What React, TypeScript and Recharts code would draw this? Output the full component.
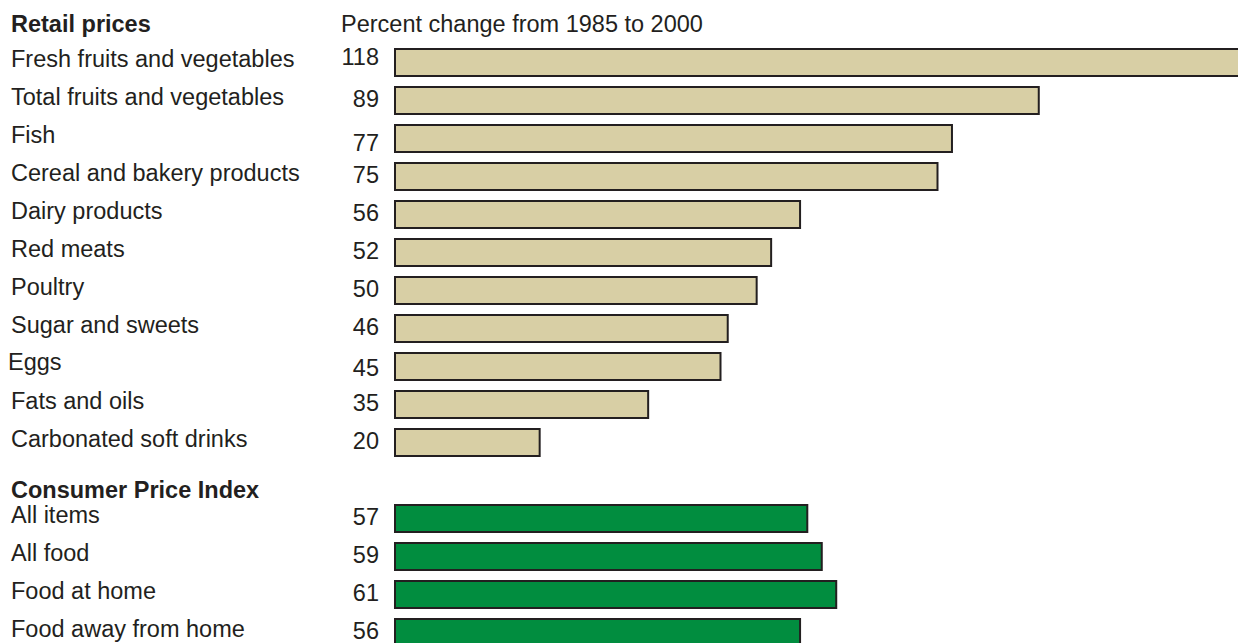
import React from "react";
import { BarChart, Bar, XAxis, YAxis, Cell } from "recharts";

const retailLabels = [
  "Fresh fruits and vegetables",
  "Total fruits and vegetables",
  "Fish",
  "Cereal and bakery products",
  "Dairy products",
  "Red meats",
  "Poultry",
  "Sugar and sweets",
  "Eggs",
  "Fats and oils",
  "Carbonated soft drinks",
];
const retailValues = [118, 89, 77, 75, 56, 52, 50, 46, 45, 35, 20];

const cpiLabels = ["All items", "All food", "Food at home", "Food away from home"];
const cpiValues = [57, 59, 61, 56];

const retailHeader = "Retail prices";
const cpiHeader = "Consumer Price Index";
const title = "Percent change from 1985 to 2000";

const TAN = "#d8cfa5";
const GREEN = "#018d3f";
const INK = "#231f20";
const FONT = "'Liberation Sans', Arial, sans-serif";
const FS = 23.5;

// small typesetting quirks of the original artwork
const numberShift: Record<string, number> = {
  "Fresh fruits and vegetables": -4,
  Fish: 6,
  Eggs: 3,
};
const labelShift: Record<string, [number, number]> = {
  Eggs: [-3, -1],
};

type Row = { name: string; value: number | null; group: "retail" | "cpi" | "header" };

const rows: Row[] = [
  ...retailLabels.map((name, i) => ({ name, value: retailValues[i], group: "retail" as const })),
  { name: cpiHeader, value: null, group: "header" as const },
  ...cpiLabels.map((name, i) => ({ name, value: cpiValues[i], group: "cpi" as const })),
];

function RowTick(props: any) {
  const { y, payload } = props;
  const row = rows.find((r) => r.name === payload.value);
  if (!row) return null;
  if (row.group === "header") {
    return (
      <text x={11} y={y + 18} fill={INK} fontSize={FS} fontWeight="bold" fontFamily={FONT}>
        {row.name}
      </text>
    );
  }
  const [lx, ly] = labelShift[row.name] || [0, 0];
  const ny = numberShift[row.name] || 0;
  return (
    <g>
      <text x={11 + lx} y={y + 5 + ly} fill={INK} fontSize={FS} fontFamily={FONT}>
        {row.name}
      </text>
      <text x={379} y={y + 7 + ny} fill={INK} fontSize={FS} fontFamily={FONT} textAnchor="end">
        {row.value}
      </text>
    </g>
  );
}

export default function App() {
  return (
    <div
      style={{
        position: "absolute",
        left: 0,
        top: 0,
        width: 1238,
        height: 643,
        overflow: "hidden",
        background: "#fff",
      }}
    >
      <svg
        width={1238}
        height={643}
        style={{ position: "absolute", left: 0, top: 0, pointerEvents: "none" }}
      >
        <text x={11} y={32} fill={INK} fontSize={FS} fontWeight="bold" fontFamily={FONT}>
          {retailHeader}
        </text>
        <text x={341} y={32} fill={INK} fontSize={FS} fontFamily={FONT}>
          {title}
        </text>
      </svg>
      <BarChart
        width={1263}
        height={651}
        data={rows}
        layout="vertical"
        margin={{ top: 43, right: 0, bottom: 0, left: 0 }}
        barCategoryGap={0}
      >
        <XAxis type="number" domain={[0, 120]} hide />
        <YAxis
          type="category"
          dataKey="name"
          width={395}
          axisLine={false}
          tickLine={false}
          interval={0}
          tick={<RowTick />}
        />
        <Bar dataKey="value" barSize={27} stroke={INK} strokeWidth={2} isAnimationActive={false}>
          {rows.map((r, i) => (
            <Cell key={`c-${i}`} fill={r.group === "cpi" ? GREEN : TAN} />
          ))}
        </Bar>
      </BarChart>
    </div>
  );
}
